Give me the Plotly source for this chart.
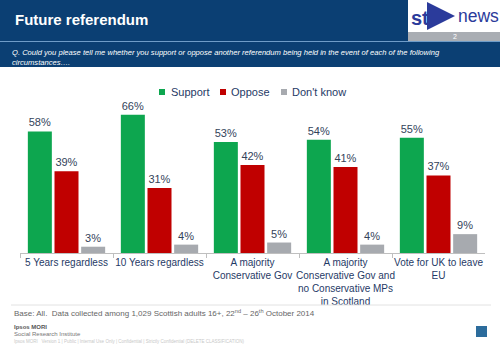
import base64
import plotly.graph_objects as go

# Survey results (% of Scottish adults)
categories = [
    "5 Years regardless",
    "10 Years regardless",
    "A majority<br>Conservative Gov",
    "A majority<br>Conservative Gov and<br>no Conservative MPs<br>in Scotland",
    "Vote for UK to leave<br>EU",
]
support = [58, 66, 53, 54, 55]
oppose = [39, 31, 42, 41, 37]
dont_know = [3, 4, 5, 4, 9]

series_names = ["Support", "Oppose", "Don't know"]
series_values = [support, oppose, dont_know]
series_colors = ["#0DA64F", "#C00000", "#A7AAAF"]

W, H = 500, 346
FONT = "Liberation Sans, Arial, sans-serif"
NAVY = "#1F3A66"
HEADER_BLUE = "#0B3F73"
LOGO_BLUE = "#2B3B9B"


def px(x):
    return x / W


def py(y):
    return 1 - y / H


fig = go.Figure()
for name, vals, col in zip(series_names, series_values, series_colors):
    fig.add_trace(go.Bar(
        x=categories, y=vals, name=name,
        marker=dict(color=col, line=dict(width=0)),
        texttemplate="%{y}%", textposition="outside",
        textfont=dict(size=11, color="#33435A", family=FONT),
        cliponaxis=False, showlegend=False,
    ))

shapes = []
annotations = []

# Header band and separator
shapes.append(dict(type="rect", xref="paper", yref="paper", x0=0, x1=1,
                   y0=py(67), y1=1, fillcolor=HEADER_BLUE, line_width=0, layer="below"))
shapes.append(dict(type="line", xref="paper", yref="paper", x0=0, x1=1,
                   y0=py(41.5), y1=py(41.5), line=dict(color="#6F9CC8", width=1)))

# stv news logo: white tile, grey page strip, "st" + arrow "v" + "news"
shapes.append(dict(type="rect", xref="paper", yref="paper", x0=px(408), x1=1,
                   y0=py(32), y1=1, fillcolor="white", line_width=0, layer="below"))
shapes.append(dict(type="rect", xref="paper", yref="paper", x0=px(408), x1=1,
                   y0=py(41), y1=py(32), fillcolor="#A9ADB3", line_width=0, layer="below"))

arrow_svg = (
    '<svg xmlns="http://www.w3.org/2000/svg" width="28" height="28" viewBox="0 0 28 28">'
    f'<polygon points="0,0 28,14 0,28" fill="{LOGO_BLUE}"/></svg>'
)
arrow_uri = "data:image/svg+xml;base64," + base64.b64encode(arrow_svg.encode()).decode()
images = [dict(source=arrow_uri, xref="paper", yref="paper", x=px(427), y=py(2),
               sizex=28 / W, sizey=28 / H, xanchor="left", yanchor="top",
               sizing="stretch", layer="above")]

annotations.append(dict(text="<b>st</b>", x=px(409), y=py(18), xref="paper", yref="paper",
                        xanchor="left", yanchor="middle", showarrow=False,
                        font=dict(size=20, color=LOGO_BLUE, family=FONT)))
annotations.append(dict(text="news", x=px(456), y=py(16), xref="paper", yref="paper",
                        xanchor="left", yanchor="middle", showarrow=False,
                        font=dict(size=17.5, color=LOGO_BLUE, family=FONT)))
annotations.append(dict(text="2", x=px(455), y=py(37), xref="paper", yref="paper",
                        xanchor="center", yanchor="middle", showarrow=False,
                        font=dict(size=7, color="white", family=FONT)))

# Title and question
annotations.append(dict(text="<b>Future referendum</b>", x=px(13), y=py(20), xref="paper", yref="paper",
                        xanchor="left", yanchor="middle", showarrow=False,
                        font=dict(size=15, color="white", family=FONT)))
annotations.append(dict(
    text="<i>Q. Could you please tell me whether you support or oppose another referendum being held in the event of each of the following<br>circumstances….</i>",
    x=px(10), y=py(46), xref="paper", yref="paper", xanchor="left", yanchor="top", align="left",
    showarrow=False, font=dict(size=7.6, color="white", family=FONT)))

# Legend
legend_items = [(159, 169), (220, 229), (281, 290)]
for (mx, tx), name, col in zip(legend_items, series_names, series_colors):
    shapes.append(dict(type="rect", xref="paper", yref="paper", x0=px(mx), x1=px(mx + 6),
                       y0=py(95), y1=py(89), fillcolor=col, line_width=0))
    annotations.append(dict(text=name, x=px(tx), y=py(92), xref="paper", yref="paper",
                            xanchor="left", yanchor="middle", showarrow=False,
                            font=dict(size=11, color=NAVY, family=FONT)))

# Footer
shapes.append(dict(type="line", xref="paper", yref="paper", x0=px(11), x1=px(491),
                   y0=py(305), y1=py(305), line=dict(color="#E2E2E2", width=1)))
annotations.append(dict(text="Base: All.  Data collected among 1,029 Scottish adults 16+, 22<sup>nd</sup> – 26<sup>th</sup> October 2014",
                        x=px(12), y=py(313), xref="paper", yref="paper", xanchor="left", yanchor="middle",
                        showarrow=False, font=dict(size=8, color="#666666", family=FONT)))
annotations.append(dict(text="<b>Ipsos MORI</b>", x=px(12), y=py(327), xref="paper", yref="paper",
                        xanchor="left", yanchor="middle", showarrow=False,
                        font=dict(size=6, color="#555555", family=FONT)))
annotations.append(dict(text="Social Research Institute", x=px(12), y=py(334), xref="paper", yref="paper",
                        xanchor="left", yanchor="middle", showarrow=False,
                        font=dict(size=6, color="#777777", family=FONT)))
annotations.append(dict(text="Ipsos MORI   Version 1 | Public | Internal Use Only | Confidential | Strictly Confidential (DELETE CLASSIFICATION)",
                        x=px(12), y=py(341), xref="paper", yref="paper",
                        xanchor="left", yanchor="middle", showarrow=False,
                        font=dict(size=4.5, color="#C8C8C8", family=FONT)))
shapes.append(dict(type="rect", xref="paper", yref="paper", x0=px(476), x1=px(487),
                   y0=py(337), y1=py(326), fillcolor="#2C6C9C", line_width=0))

fig.update_layout(
    width=W, height=H,
    margin=dict(l=0, r=0, t=0, b=0),
    paper_bgcolor="white", plot_bgcolor="white",
    barmode="group", bargap=0.14, bargroupgap=0.1,
    font=dict(family=FONT, color=NAVY),
    xaxis=dict(domain=[px(20), px(485)], showgrid=False, showline=True, linecolor="#BFBFBF",
               linewidth=1, ticks="outside", tickson="boundaries", ticklen=4, tickcolor="#BFBFBF",
               tickangle=0, automargin=False,
               tickfont=dict(size=10, color=NAVY, family=FONT), fixedrange=True),
    yaxis=dict(domain=[py(253), py(100)], range=[0, 73], visible=False, fixedrange=True),
    shapes=shapes, annotations=annotations, images=images,
)

fig.write_html("out.html")
